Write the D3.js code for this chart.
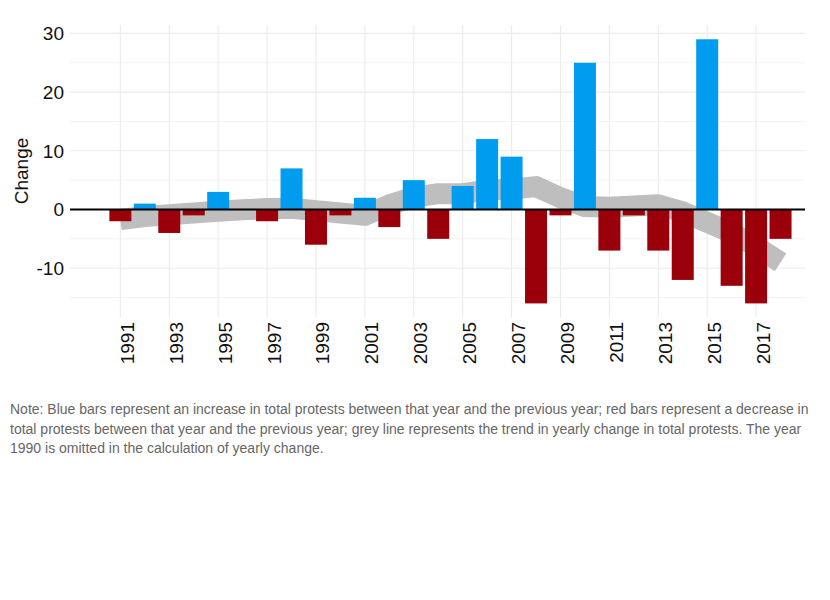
<!DOCTYPE html>
<html>
<head>
<meta charset="utf-8">
<script src="https://cdn.jsdelivr.net/npm/d3@7"></script>
<style>
  body { margin: 0; background: #fff; }
  svg { display: block; font-family: "Liberation Sans", Arial, sans-serif; }
</style>
</head>
<body>
<div id="chart"></div>
<script>
// yearly change in total protests
const years = d3.range(1991, 2019);
const changes = [-2, 1, -4, -1, 3, 0, -2, 7, -6, -1, 2, -3, 5, -5, 4, 12, 9, -16, -1, 25, -7, -1, -7, -12, 29, -13, -16, -5];
// grey trend line
const trend = [-1.7, -1.2, -0.9, -0.6, -0.3, -0.05, 0.15, 0.2, -0.2, -0.6, -1.0, 0.8, 2.1, 2.7, 2.7, 3.3, 3.5, 3.9, 2.0, 0.5, 0.4, 0.6, 0.8, -0.4, -2.2, -4.0, -6.3, -9.0];
const xTicks = d3.range(1991, 2018, 2);
const yTicks = [-10, 0, 10, 20, 30];
const yMinor = [-15, -5, 5, 15, 25];
const noteLines = [
  "Note: Blue bars represent an increase in total protests between that year and the previous year; red bars represent a decrease in",
  "total protests between that year and the previous year; grey line represents the trend in yearly change in total protests. The year",
  "1990 is omitted in the calculation of yearly change."
];

const width = 830, height = 600;
const panel = { left: 70, right: 805, top: 25, bottom: 317.5 };

const svg = d3.select("#chart").append("svg")
  .attr("width", width)
  .attr("height", height);

const x = d3.scaleLinear()
  .domain([1988.94, 2019.0])
  .range([panel.left, panel.right]);

const y = d3.scaleLinear()
  .domain([-18.4, 31.43])
  .range([panel.bottom, panel.top]);

const barW = x(1991.9) - x(1991);

// grid
svg.append("g").selectAll("line")
  .data(yMinor)
  .enter().append("line")
  .attr("x1", panel.left).attr("x2", panel.right)
  .attr("y1", d => y(d)).attr("y2", d => y(d))
  .attr("stroke", "#f3f3f3").attr("stroke-width", 1);

svg.append("g").selectAll("line")
  .data(yTicks)
  .enter().append("line")
  .attr("x1", panel.left).attr("x2", panel.right)
  .attr("y1", d => y(d)).attr("y2", d => y(d))
  .attr("stroke", "#ebebeb").attr("stroke-width", 1.1);

svg.append("g").selectAll("line")
  .data(xTicks)
  .enter().append("line")
  .attr("x1", d => x(d)).attr("x2", d => x(d))
  .attr("y1", panel.top).attr("y2", panel.bottom)
  .attr("stroke", "#ebebeb").attr("stroke-width", 1.1);

// trend line
const line = d3.line()
  .x((d, i) => x(years[i]))
  .y(d => y(d));

svg.append("path")
  .datum(trend)
  .attr("d", line)
  .attr("fill", "none")
  .attr("stroke", "#bebebe")
  .attr("stroke-width", 21)
  .attr("stroke-linejoin", "round")
  .attr("stroke-linecap", "butt");

// bars
svg.selectAll(".bar")
  .data(changes)
  .enter().append("rect")
  .attr("class", "bar")
  .attr("x", (d, i) => x(years[i]) - barW / 2)
  .attr("width", barW)
  .attr("y", d => d > 0 ? y(d) : y(0))
  .attr("height", d => Math.abs(y(d) - y(0)))
  .attr("fill", d => d > 0 ? "#009cf0" : "#9b000a");

// zero line
svg.append("line")
  .attr("x1", panel.left).attr("x2", panel.right)
  .attr("y1", y(0)).attr("y2", y(0))
  .attr("stroke", "#000").attr("stroke-width", 2);

// y axis labels
svg.append("g").selectAll("text")
  .data(yTicks)
  .enter().append("text")
  .attr("x", 64)
  .attr("y", d => y(d))
  .attr("dy", "0.36em")
  .attr("text-anchor", "end")
  .attr("font-size", 19)
  .attr("fill", "#111")
  .text(d => d);

// x axis labels (rotated)
svg.append("g").selectAll("text")
  .data(xTicks)
  .enter().append("text")
  .attr("transform", d => `translate(${x(d) + 13.5},322) rotate(-90)`)
  .attr("text-anchor", "end")
  .attr("font-size", 19)
  .attr("fill", "#111")
  .text(d => d);

// y title
svg.append("text")
  .attr("transform", "translate(28,171) rotate(-90)")
  .attr("text-anchor", "middle")
  .attr("font-size", 19)
  .attr("fill", "#111")
  .text("Change");

// note
svg.append("g").selectAll("text")
  .data(noteLines)
  .enter().append("text")
  .attr("x", 10)
  .attr("y", (d, i) => 414 + i * 19.5)
  .attr("font-size", 14)
  .attr("fill", "#666")
  .text(d => d);
</script>
</body>
</html>
